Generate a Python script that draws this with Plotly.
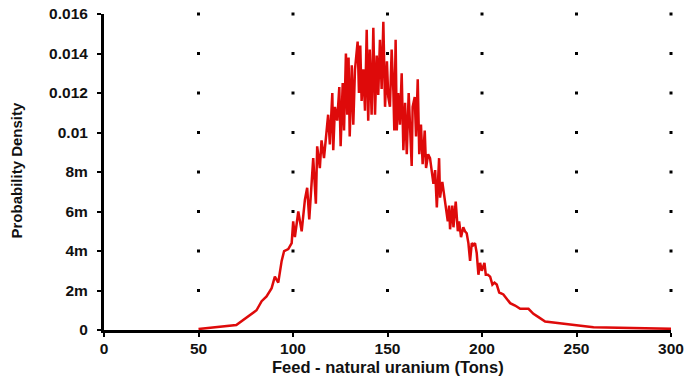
import plotly.graph_objects as go

# Feed (tons) and probability density
feed = [50.0, 70.0, 80.7, 83.4, 86.0, 88.7, 90.4, 92.2, 94.0, 95.3, 97.5, 99.3, 100.1, 101.0, 102.8, 104.6,
        106.3, 107.5, 108.6, 109.9, 110.7, 112.1, 112.8, 114.2, 115.1, 116.4, 117.8, 118.6, 119.5, 120.8,
        121.3, 122.2, 123.4, 124.5, 125.2, 126.3, 127.0, 128.0, 128.7, 129.4, 130.0, 131.1, 131.9, 132.8,
        134.2, 134.9, 135.6, 136.3, 137.2, 138.1, 139.0, 139.8, 140.6, 141.6, 142.5, 143.4, 144.3, 145.1,
        146.0, 146.9, 147.8, 148.7, 149.7, 150.4, 151.3, 152.2, 153.1, 153.6, 154.3, 154.9, 155.7, 156.6,
        157.5, 158.4, 159.3, 160.2, 161.2, 161.9, 162.8, 163.3, 164.4, 165.1, 166.0, 166.8, 167.7, 168.6,
        169.7, 170.4, 171.5, 172.5, 173.4, 174.3, 175.2, 176.1, 177.3, 177.8, 179.0, 180.1, 180.8, 181.9,
        182.6, 183.1, 184.3, 184.9, 186.1, 187.2, 187.9, 188.9, 190.1, 191.0, 191.9, 192.8, 193.7, 194.6,
        195.4, 196.3, 197.2, 198.1, 199.0, 199.9, 201.3, 202.0, 203.1, 204.3, 205.5, 206.6, 207.8, 209.1,
        211.3, 213.1, 214.9, 217.5, 220.2, 224.6, 227.2, 229.9, 233.4, 251.1, 259.0, 300.0]
density = [0.00005, 0.00025, 0.0010, 0.00146, 0.0017, 0.00212, 0.0027, 0.0024, 0.0035, 0.0040, 0.0041, 0.0044, 0.0055, 0.0047, 0.0060, 0.0050,
           0.0066, 0.0072, 0.0056, 0.0077, 0.0087, 0.0064, 0.0093, 0.0082, 0.0096, 0.0087, 0.0101, 0.0109, 0.0094, 0.0120,
           0.0091, 0.0113, 0.0106, 0.0123, 0.0093, 0.0125, 0.0101, 0.0140, 0.0109, 0.0138, 0.0098, 0.0134, 0.0104, 0.0132,
           0.0146, 0.0120, 0.0144, 0.0116, 0.0132, 0.0111, 0.0152, 0.0106, 0.0142, 0.0109, 0.0153, 0.0109, 0.0139, 0.0119,
           0.0147, 0.0122, 0.0156, 0.0113, 0.0136, 0.0118, 0.0113, 0.0142, 0.0121, 0.0101, 0.0147, 0.0101, 0.0120, 0.0104,
           0.0130, 0.0091, 0.0115, 0.0089, 0.0120, 0.0101, 0.0083, 0.0113, 0.0118, 0.0098, 0.0127, 0.0089, 0.0104, 0.0084,
           0.0101, 0.0082, 0.0089, 0.0087, 0.0081, 0.0074, 0.0081, 0.0062, 0.0087, 0.0067, 0.0075, 0.0068, 0.0062, 0.0055,
           0.0063, 0.0051, 0.0063, 0.0052, 0.0065, 0.0050, 0.0055, 0.0047, 0.0052, 0.0050, 0.0049, 0.0044, 0.0035, 0.0044,
           0.0043, 0.0044, 0.0039, 0.0028, 0.0034, 0.0030, 0.0034, 0.0028, 0.0028, 0.0027, 0.0023, 0.0024, 0.0023, 0.0019,
           0.0018, 0.0016, 0.00136, 0.00124, 0.00107, 0.00107, 0.00082, 0.00065, 0.00043, 0.00023, 0.00014, 0.00006]

x_ticks = [0, 50, 100, 150, 200, 250, 300]
y_ticks = [0, 0.002, 0.004, 0.006, 0.008, 0.01, 0.012, 0.014, 0.016]
y_tick_labels = ["0", "2m", "4m", "6m", "8m", "0.01", "0.012", "0.014", "0.016"]
x_title = "Feed - natural uranium (Tons)"
y_title = "Probability Density"

# grid dots at tick intersections
gx, gy = [], []
for xv in x_ticks[1:]:
    for yv in y_ticks[1:]:
        gx.append(xv)
        gy.append(yv)

fig = go.Figure()
fig.add_trace(go.Scatter(x=gx, y=gy, mode="markers",
                         marker=dict(symbol="square", size=3, color="black", line=dict(width=0)),
                         cliponaxis=False, hoverinfo="skip", showlegend=False))
fig.add_trace(go.Scatter(x=feed, y=density, mode="lines",
                         line=dict(color="rgb(222,10,10)", width=2.5),
                         showlegend=False))

fam = "Liberation Sans, Arial, sans-serif"
tick_font = dict(family=fam, size=15.5, color="#111", weight="bold")

fig.update_layout(
    width=685, height=381,
    margin=dict(l=104, r=14, t=14, b=51, autoexpand=False),
    plot_bgcolor="white", paper_bgcolor="white",
    xaxis=dict(range=[0, 300], tickvals=x_ticks, ticks="outside", ticklen=4, tickwidth=2,
               tickcolor="black", showline=True, linewidth=3, linecolor="black",
               showgrid=False, zeroline=False, tickfont=tick_font, ticklabelstandoff=-2,
               automargin=False),
    yaxis=dict(range=[0, 0.016], tickvals=y_ticks, ticktext=y_tick_labels, ticks="outside",
               ticklen=4, tickwidth=2, tickcolor="black", showline=True, linewidth=3,
               linecolor="black", showgrid=False, zeroline=False, tickfont=tick_font,
               ticklabelstandoff=6, automargin=False),
    annotations=[
        dict(text=x_title, xref="paper", yref="paper", x=0.5, y=-0.117,
             xanchor="center", yanchor="middle", showarrow=False,
             font=dict(family=fam, size=16.5, color="#111", weight="bold")),
        dict(text=y_title, xref="paper", yref="paper", x=-0.155, y=0.505,
             xanchor="center", yanchor="middle", showarrow=False, textangle=-90,
             font=dict(family=fam, size=15, color="#111", weight="bold")),
    ],
)

fig.write_html("out.html")
